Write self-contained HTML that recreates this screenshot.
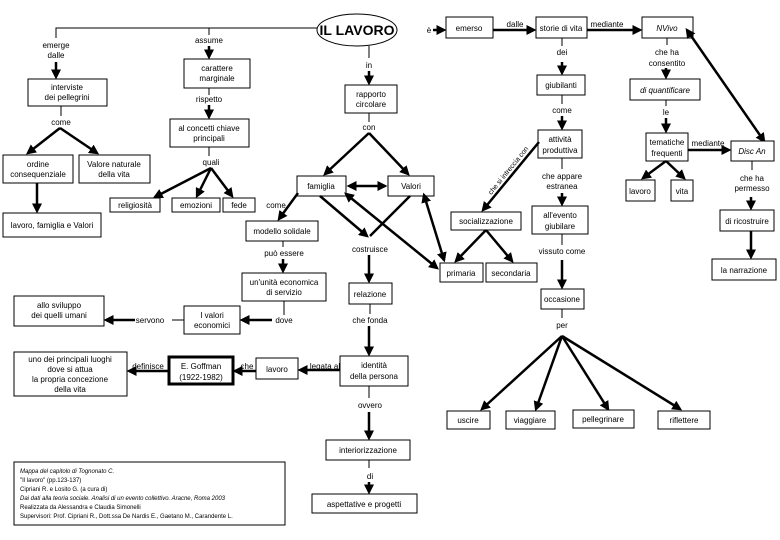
<!DOCTYPE html>
<html><head><meta charset="utf-8"><style>
html,body{margin:0;padding:0;background:#fff}
svg{display:block}
text{font-family:"Liberation Sans",sans-serif;font-size:8px;fill:#000}
.b{fill:#fff;stroke:#000;stroke-width:1}
.a{stroke:#000;stroke-width:2.5;fill:none}
.t{stroke:#000;stroke-width:1;fill:none}
</style></head><body>
<svg width="780" height="540" viewBox="0 0 780 540" xmlns="http://www.w3.org/2000/svg">
<defs><marker id="m" markerWidth="4" markerHeight="4" refX="3" refY="2" orient="auto" markerUnits="strokeWidth"><path d="M0,0 L4,2 L0,4 z" fill="#000"/></marker>
<marker id="s" markerWidth="4" markerHeight="4" refX="1" refY="2" orient="auto" markerUnits="strokeWidth"><path d="M4,0 L0,2 L4,4 z" fill="#000"/></marker></defs>
<g text-anchor="middle">
<path class="t" d="M56,38 V28 H317 M209,28 V35"/>
<ellipse cx="357" cy="30" rx="40" ry="16" fill="#fff" stroke="#000"/>
<text x="357" y="35" style="font-size:14px;font-weight:bold">IL LAVORO</text>
<text x="56" y="48">emerge</text><text x="56" y="58">dalle</text>
<path class="a" d="M56,62 V77" marker-end="url(#m)"/>
<rect class="b" x="28" y="79" width="79" height="27"/><text x="67" y="90">interviste</text><text x="67" y="100">dei pellegrini</text>
<path class="t" d="M61,106 V116"/><text x="61" y="125">come</text>
<path class="a" d="M60,128 L28,153" marker-end="url(#m)"/><path class="a" d="M60,128 L97,153" marker-end="url(#m)"/>
<rect class="b" x="3" y="155" width="70" height="28"/><text x="38" y="167">ordine</text><text x="38" y="177">consequenziale</text>
<rect class="b" x="79" y="155" width="71" height="28"/><text x="114" y="167">Valore naturale</text><text x="114" y="177">della vita</text>
<path class="a" d="M37,183 V211" marker-end="url(#m)"/>
<rect class="b" x="3" y="213" width="98" height="24"/><text x="52" y="228">lavoro, famiglia e Valori</text>
<text x="209" y="43">assume</text>
<path class="a" d="M209,46 V57" marker-end="url(#m)"/>
<rect class="b" x="184" y="59" width="66" height="29"/><text x="217" y="71">carattere</text><text x="217" y="81">marginale</text>
<path class="t" d="M209,88 V95"/><text x="209" y="102">rispetto</text>
<path class="a" d="M209,105 V117" marker-end="url(#m)"/>
<rect class="b" x="170" y="119" width="79" height="28"/><text x="209" y="131">al concetti chiave</text><text x="209" y="141">principali</text>
<path class="t" d="M209,147 V156"/><text x="211" y="165">quali</text>
<path class="a" d="M211,168 L155,197" marker-end="url(#m)"/><path class="a" d="M211,168 L197,196" marker-end="url(#m)"/><path class="a" d="M211,168 L232,196" marker-end="url(#m)"/>
<rect class="b" x="110" y="198" width="50" height="14"/><text x="135" y="208">religiosità</text>
<rect class="b" x="172" y="198" width="48" height="14"/><text x="196" y="208">emozioni</text>
<rect class="b" x="223" y="198" width="32" height="14"/><text x="239" y="208">fede</text>
<path class="t" d="M369,46 V58"/><text x="369" y="68">in</text>
<path class="a" d="M369,71 V83" marker-end="url(#m)"/>
<rect class="b" x="345" y="85" width="52" height="28"/><text x="371" y="97">rapporto</text><text x="371" y="107">circolare</text>
<path class="t" d="M369,113 V122"/><text x="369" y="130">con</text>
<path class="a" d="M369,133 L325,174" marker-end="url(#m)"/><path class="a" d="M369,133 L408,174" marker-end="url(#m)"/>
<rect class="b" x="297" y="176" width="49" height="20"/><text x="321" y="189">famiglia</text>
<rect class="b" x="388" y="176" width="46" height="20"/><text x="411" y="189">Valori</text>
<path class="a" d="M349,186 L385,186" marker-start="url(#s)" marker-end="url(#m)"/>
<path class="a" d="M320,196 L367,236" marker-end="url(#m)"/><path class="a" d="M410,196 L370,236"/>
<path class="a" d="M346,194 L437,268" marker-start="url(#s)" marker-end="url(#m)"/>
<path class="a" d="M424,195 L444,260" marker-start="url(#s)" marker-end="url(#m)"/>
<path class="a" d="M298,193 L279,219" marker-end="url(#m)"/><text x="276" y="208">come</text>
<rect class="b" x="246" y="221" width="72" height="20"/><text x="282" y="234">modello solidale</text>
<path class="t" d="M283,241 V247"/><text x="284" y="256">può essere</text>
<path class="a" d="M283,259 V271" marker-end="url(#m)"/>
<rect class="b" x="242" y="273" width="84" height="28"/><text x="284" y="285">un'unità economica</text><text x="284" y="295">di servizio</text>
<path class="t" d="M284,301 V315"/><text x="284" y="323">dove</text>
<path class="a" d="M272,320 H242" marker-end="url(#m)"/>
<rect class="b" x="184" y="306" width="56" height="28"/><text x="212" y="318">I valori</text><text x="212" y="328">economici</text>
<path class="t" d="M184,320 H172"/><text x="150" y="323">servono</text>
<path class="a" d="M135,320 H106" marker-end="url(#m)"/>
<rect class="b" x="14" y="296" width="90" height="30"/><text x="59" y="308">allo sviluppo</text><text x="59" y="318">dei quelli umani</text>
<text x="370" y="252">costruisce</text>
<path class="a" d="M369,255 V281" marker-end="url(#m)"/>
<rect class="b" x="349" y="283" width="43" height="21"/><text x="370" y="297">relazione</text>
<path class="t" d="M370,304 V314"/><text x="370" y="323">che fonda</text>
<path class="a" d="M369,326 V354" marker-end="url(#m)"/>
<rect class="b" x="340" y="356" width="68" height="30"/><text x="374" y="368">identità</text><text x="374" y="379">della persona</text>
<text x="325" y="369">legata al</text><path class="a" d="M340,370 H300" marker-end="url(#m)"/>
<rect class="b" x="256" y="358" width="42" height="21"/><text x="277" y="372">lavoro</text>
<text x="247" y="369">che</text><path class="a" d="M256,371 H235" marker-end="url(#m)"/>
<rect x="169" y="357" width="64" height="27" fill="#fff" stroke="#000" stroke-width="3"/><text x="201" y="369">E. Goffman</text><text x="201" y="380">(1922-1982)</text>
<text x="148" y="369">definisce</text><path class="a" d="M168,371 H129" marker-end="url(#m)"/>
<rect class="b" x="14" y="352" width="113" height="44"/><text x="70" y="362">uno dei principali luoghi</text><text x="70" y="372">dove si attua</text><text x="70" y="382">la propria concezione</text><text x="70" y="392">della vita</text>
<path class="t" d="M369,386 V398"/><text x="370" y="408">ovvero</text>
<path class="a" d="M369,412 V438" marker-end="url(#m)"/>
<rect class="b" x="326" y="440" width="84" height="20"/><text x="368" y="453">interiorizzazione</text>
<path class="t" d="M369,460 V468"/><text x="370" y="479">di</text>
<path class="a" d="M369,482 V492" marker-end="url(#m)"/>
<rect class="b" x="312" y="494" width="105" height="19"/><text x="364" y="507">aspettative e progetti</text>
<rect class="b" x="14" y="462" width="271" height="63"/>
<g text-anchor="start">
<text x="20" y="473" style="font-size:6px;font-style:italic">Mappa del capitolo di Tognonato C.</text>
<text x="20" y="482" style="font-size:6px">"Il lavoro" (pp.123-137)</text>
<text x="20" y="491" style="font-size:6px">Cipriani R. e Losito G. (a cura di)</text>
<text x="20" y="500" style="font-size:6px;font-style:italic">Dai dati alla teoria sociale. Analisi di un evento collettivo. Aracne, Roma 2003</text>
<text x="20" y="509" style="font-size:6px">Realizzata da Alessandra e Claudia Simonelli</text>
<text x="20" y="518" style="font-size:6px">Supervisori: Prof. Cipriani R., Dott.ssa De Nardis E., Gaetano M., Carandente L.</text>
</g>
<text x="429" y="33">è</text><path class="a" d="M433,30 H444" marker-end="url(#m)"/>
<rect class="b" x="446" y="17" width="47" height="21"/><text x="469" y="31">emerso</text>
<text x="515" y="27">dalle</text><path class="a" d="M493,30 H534" marker-end="url(#m)"/>
<rect class="b" x="536" y="17" width="51" height="21"/><text x="561" y="31">storie di vita</text>
<text x="607" y="27">mediante</text><path class="a" d="M587,30 H640" marker-end="url(#m)"/>
<rect class="b" x="642" y="17" width="51" height="21"/><text x="667" y="31" font-style="italic">NVivo</text>
<path class="a" d="M687,30 L764,141" marker-start="url(#s)" marker-end="url(#m)"/>
<path class="t" d="M667,38 V45"/><text x="667" y="55">che ha</text><text x="667" y="66">consentito</text>
<path class="a" d="M666,68 V77" marker-end="url(#m)"/>
<rect class="b" x="630" y="79" width="70" height="21"/><text x="665" y="93" font-style="italic">di quantificare</text>
<path class="t" d="M666,100 V106"/><text x="666" y="115">le</text>
<path class="a" d="M666,118 V131" marker-end="url(#m)"/>
<rect class="b" x="646" y="133" width="42" height="28"/><text x="667" y="145">tematiche</text><text x="667" y="156">frequenti</text>
<text x="708" y="146">mediante</text><path class="a" d="M688,150 H729" marker-end="url(#m)"/>
<rect class="b" x="731" y="141" width="43" height="20"/><text x="752" y="154" font-style="italic">Disc An</text>
<path class="a" d="M666,161 L643,178" marker-end="url(#m)"/><path class="a" d="M666,161 L684,178" marker-end="url(#m)"/>
<rect class="b" x="626" y="180" width="29" height="21"/><text x="640" y="194">lavoro</text>
<rect class="b" x="671" y="180" width="22" height="21"/><text x="682" y="194">vita</text>
<path class="t" d="M752,161 V170"/><text x="752" y="181">che ha</text><text x="752" y="191">permesso</text>
<path class="a" d="M751,197 V208" marker-end="url(#m)"/>
<rect class="b" x="720" y="210" width="54" height="21"/><text x="747" y="224">di ricostruire</text>
<path class="a" d="M751,231 V257" marker-end="url(#m)"/>
<rect class="b" x="712" y="259" width="64" height="21"/><text x="744" y="273">la narrazione</text>
<path class="t" d="M562,38 V46"/><text x="562" y="55">dei</text>
<path class="a" d="M562,62 V73" marker-end="url(#m)"/>
<rect class="b" x="537" y="75" width="48" height="20"/><text x="561" y="88">giubilanti</text>
<path class="t" d="M562,95 V104"/><text x="562" y="113">come</text>
<path class="a" d="M562,116 V128" marker-end="url(#m)"/>
<rect class="b" x="538" y="130" width="44" height="28"/><text x="560" y="142">attività</text><text x="560" y="153">produttiva</text>
<path class="a" d="M539,142 L483,210" marker-end="url(#m)"/>
<text x="0" y="0" transform="translate(510,172) rotate(-51)" style="font-size:7px">che si intreccia con</text>
<path class="t" d="M562,158 V169"/><text x="562" y="179">che appare</text><text x="562" y="189">estranea</text>
<path class="a" d="M562,193 V204" marker-end="url(#m)"/>
<rect class="b" x="532" y="206" width="56" height="28"/><text x="560" y="218">all'evento</text><text x="560" y="229">giubilare</text>
<path class="t" d="M562,234 V245"/><text x="562" y="254">vissuto come</text>
<path class="a" d="M562,260 V287" marker-end="url(#m)"/>
<rect class="b" x="541" y="289" width="43" height="20"/><text x="562" y="302">occasione</text>
<path class="t" d="M562,309 V318"/><text x="562" y="328">per</text>
<path class="a" d="M562,336 L482,409" marker-end="url(#m)"/><path class="a" d="M562,336 L536,409" marker-end="url(#m)"/><path class="a" d="M562,336 L608,409" marker-end="url(#m)"/><path class="a" d="M562,336 L680,409" marker-end="url(#m)"/>
<rect class="b" x="447" y="411" width="43" height="18"/><text x="468" y="423">uscire</text>
<rect class="b" x="506" y="411" width="49" height="18"/><text x="530" y="423">viaggiare</text>
<rect class="b" x="573" y="410" width="61" height="18"/><text x="603" y="422">pellegrinare</text>
<rect class="b" x="658" y="411" width="52" height="18"/><text x="684" y="423">riflettere</text>
<rect class="b" x="451" y="212" width="70" height="18"/><text x="486" y="224">socializzazione</text>
<path class="a" d="M486,230 L456,261" marker-end="url(#m)"/><path class="a" d="M486,230 L512,261" marker-end="url(#m)"/>
<rect class="b" x="440" y="263" width="43" height="19"/><text x="461" y="276">primaria</text>
<rect class="b" x="486" y="263" width="51" height="19"/><text x="511" y="276">secondaria</text>
</g>
</svg>
</body></html>
